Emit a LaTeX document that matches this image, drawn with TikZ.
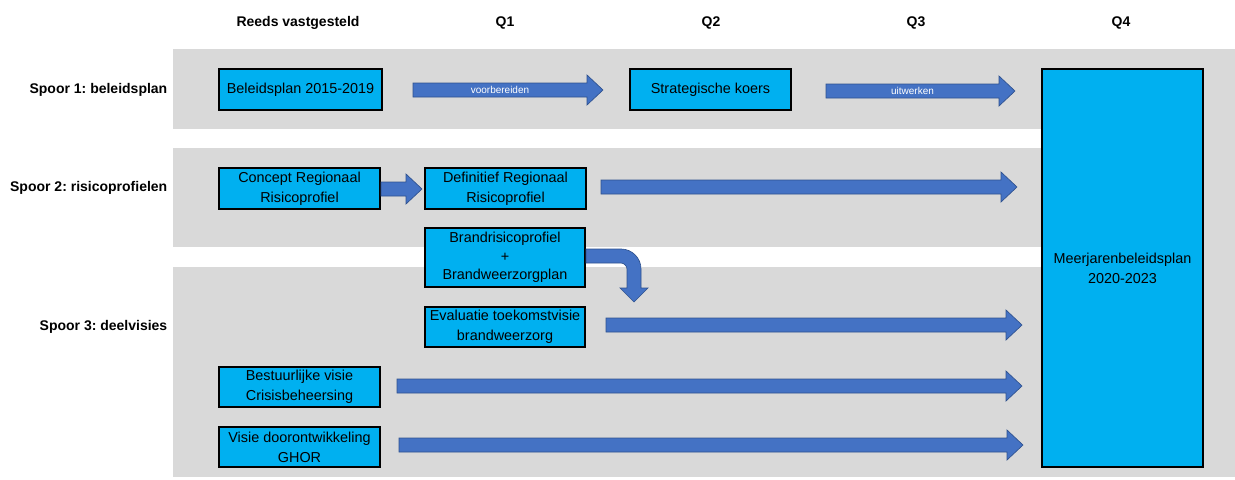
\documentclass[tikz,border=0pt]{standalone}
\usepackage{fontspec}
\setmainfont{Liberation Sans}
\frenchspacing
\definecolor{band}{HTML}{D9D9D9}
\definecolor{boxfill}{HTML}{00B0F0}
\definecolor{arrfill}{HTML}{4472C4}
\definecolor{arrline}{HTML}{2F528F}
\tikzset{
  tbox/.style={draw=black, line width=1.6pt, fill=boxfill, inner sep=0pt, align=center,
    font=\fontsize{10.8}{14.8}\selectfont, text=black},
  sz/.style 2 args={minimum width={#1*0.75pt}, minimum height={#2*0.75pt}},
  hdr/.style={font=\bfseries\fontsize{10.5}{12}\selectfont},
  rowlab/.style={font=\bfseries\fontsize{10.5}{12}\selectfont, anchor=east},
  arrstyle/.style={fill=arrfill, draw=arrline, line width=0.5pt, line join=miter},
  arrlabel/.style={text=white, font=\fontsize{7.5}{9}\selectfont, inner sep=0pt}
}
\newcommand{\blockarr}[4]{%
  \draw[arrstyle] (#1,#3-7) -- (#2-16,#3-7) -- (#2-16,#3-15) -- (#2,#3) -- (#2-16,#3+15) -- (#2-16,#3+7) -- (#1,#3+7) -- cycle;
  \node[arrlabel] at ({(#1+#2-16)/2},#3) {#4};
}
\begin{document}
\begin{tikzpicture}[x=0.75pt,y=-0.75pt]
\useasboundingbox (0,0) rectangle (1235,479);
% background bands
\fill[band] (173,49) rectangle (1235,477);
\fill[white] (173,129) rectangle (1042,148);
\fill[white] (173,247) rectangle (1042,267);
% headers
\node[hdr] (h0) at (298,23) {Reeds vastgesteld};
\node[hdr] (h1) at (505,23) {Q1};
\node[hdr] (h2) at (711,23) {Q2};
\node[hdr] (h3) at (916,23) {Q3};
\node[hdr] (h4) at (1121,23) {Q4};
% row labels
\node[rowlab] (r1) at (172,90) {Spoor 1: beleidsplan};
\node[rowlab] (r2) at (172,188) {Spoor 2: risicoprofielen};
\node[rowlab] (r3) at (172,327) {Spoor 3: deelvisies};
% boxes
\node[tbox, sz={163}{41}] (bp) at (300.5,89.5) {Beleidsplan 2015-2019};
\node[tbox, sz={161}{41}] (sk) at (710.5,89.5) {Strategische koers};
\node[tbox, sz={161}{41}] (crr) at (299.5,188.5) {Concept Regionaal\\Risicoprofiel};
\node[tbox, sz={161}{41}] (drr) at (505.5,188.5) {Definitief Regionaal\\Risicoprofiel};
\node[tbox, sz={160}{59}, font=\fontsize{10.8}{14}\selectfont] (brp) at (505,257.5) {Brandrisicoprofiel\\+\\Brandweerzorgplan};
\node[tbox, sz={160}{40}] (ev) at (505,327) {Evaluatie toekomstvisie\\brandweerzorg};
\node[tbox, sz={161}{40}] (bv) at (299.5,387) {Bestuurlijke visie\\Crisisbeheersing};
\node[tbox, sz={161}{40}] (vd) at (299.5,447) {Visie doorontwikkeling\\GHOR};
\node[tbox, sz={161}{398}] (mjp) at (1122.5,268) {Meerjarenbeleidsplan\\2020-2023};
% block arrows
\blockarr{413}{603}{90}{voorbereiden}
\blockarr{826}{1015}{91}{uitwerken}
\blockarr{381}{422}{189}{}
\blockarr{601}{1017}{187}{}
\blockarr{606}{1022}{325}{}
\blockarr{397}{1022}{386}{}
\blockarr{399}{1023}{445}{}
% bent arrow
\draw[arrstyle] (586,249) -- (621,249) .. controls (632,249) and (641,258) .. (641,269)
  -- (641,288) -- (648,288) -- (634,302) -- (620,288) -- (627,288) -- (627,269)
  .. controls (627,266) and (624,263) .. (621,263) -- (586,263) -- cycle;
\end{tikzpicture}
\end{document}
